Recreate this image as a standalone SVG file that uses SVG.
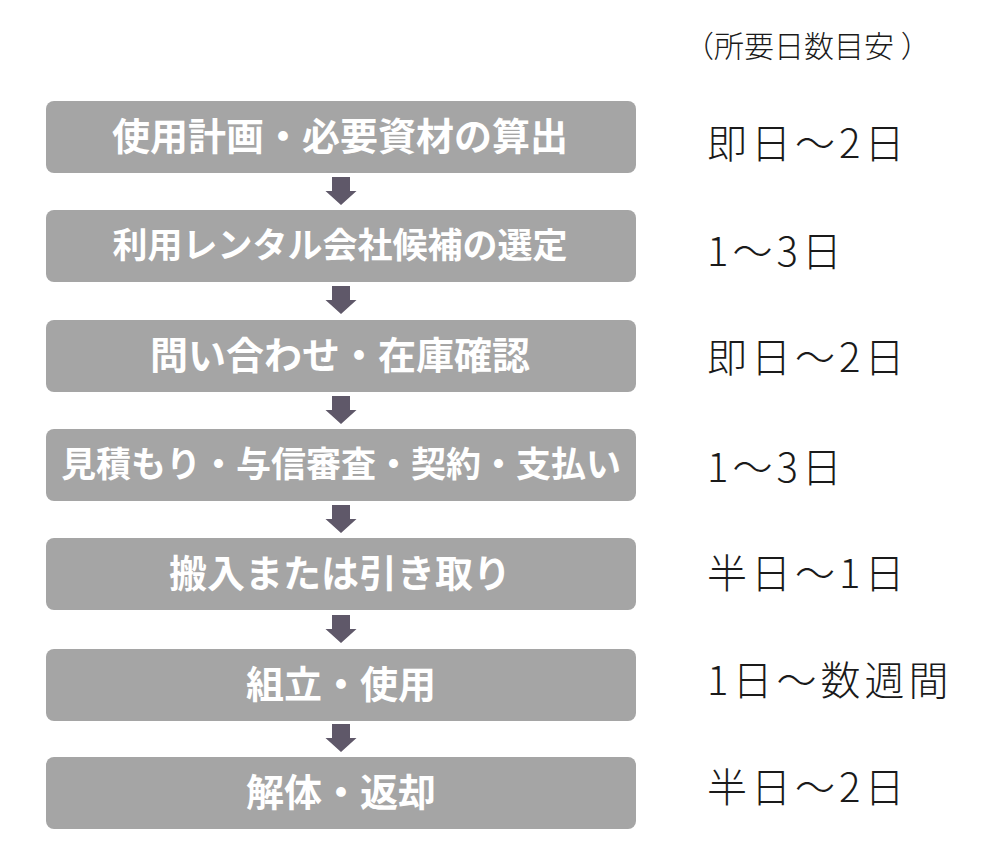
<svg xmlns="http://www.w3.org/2000/svg" width="1000" height="847" viewBox="0 0 1000 847">
<style>
.box{fill:#a5a5a5}
.bt{font-family:"Noto Sans CJK JP","Noto Sans",sans-serif;font-weight:bold;fill:#ffffff;text-anchor:middle;dominant-baseline:central}
.dt{font-family:"Noto Sans CJK JP","Noto Sans",sans-serif;font-weight:300;font-size:40px;letter-spacing:4px;fill:#1a1a1a;dominant-baseline:central}
.hd{font-family:"Noto Sans CJK JP","Noto Sans",sans-serif;font-weight:300;font-size:30px;fill:#1a1a1a;dominant-baseline:central}
.ar{fill:#5f5869}
</style>
<defs>
<path id="arr" d="M-9,0 H9 V14 H15.5 L0,28 L-15.5,14 H-9 Z"/>
</defs>
<rect width="1000" height="847" fill="#ffffff"/>
<text class="hd" x="684" y="44">（所要日数目安 ）</text>
<g id="connectors">
<use href="#arr" class="ar" x="341" y="177"/>
<use href="#arr" class="ar" x="341" y="286"/>
<use href="#arr" class="ar" x="341" y="396"/>
<use href="#arr" class="ar" x="341" y="505"/>
<use href="#arr" class="ar" x="341" y="615"/>
<use href="#arr" class="ar" x="341" y="724"/>
</g>
<g id="n1"><rect class="box" x="46" y="101" width="590" height="72" rx="8"/><text class="bt" x="340" y="133" font-size="38">使用計画・必要資材の算出</text></g>
<g id="n2"><rect class="box" x="46" y="210" width="590" height="72" rx="8"/><text class="bt" x="340" y="242" font-size="35">利用レンタル会社候補の選定</text></g>
<g id="n3"><rect class="box" x="46" y="320" width="590" height="72" rx="8"/><text class="bt" x="340" y="352" font-size="38">問い合わせ・在庫確認</text></g>
<g id="n4"><rect class="box" x="46" y="429" width="590" height="72" rx="8"/><text class="bt" x="341" y="461" font-size="35">見積もり・与信審査・契約・支払い</text></g>
<g id="n5"><rect class="box" x="46" y="538" width="590" height="72" rx="8"/><text class="bt" x="340" y="570" font-size="38">搬入または引き取り</text></g>
<g id="n6"><rect class="box" x="46" y="649" width="590" height="72" rx="8"/><text class="bt" x="341" y="681" font-size="38">組立・使用</text></g>
<g id="n7"><rect class="box" x="46" y="757" width="590" height="72" rx="8"/><text class="bt" x="341" y="789" font-size="38">解体・返却</text></g>
<g id="durations">
<text class="dt" x="707" y="141">即日～2日</text>
<text class="dt" x="707" y="249">1～3日</text>
<text class="dt" x="707" y="355">即日～2日</text>
<text class="dt" x="707" y="465">1～3日</text>
<text class="dt" x="707" y="571">半日～1日</text>
<text class="dt" x="707" y="678">1日～数週間</text>
<text class="dt" x="707" y="785">半日～2日</text>
</g>
</svg>
